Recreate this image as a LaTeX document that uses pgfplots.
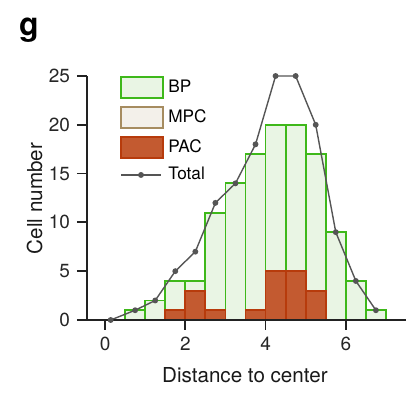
\documentclass[border=0pt]{standalone}
\usepackage{fontspec}
\setmainfont{TeX Gyre Heros}
\usepackage{pgfplots}
\pgfplotsset{compat=1.18}
\definecolor{bpfill}{HTML}{E9F5E4}
\definecolor{bpedge}{HTML}{3EB81A}
\definecolor{mpcfill}{HTML}{F3F0EA}
\definecolor{mpcedge}{HTML}{A68C60}
\definecolor{pacfill}{HTML}{C35A30}
\definecolor{pacedge}{HTML}{B73B0C}
\definecolor{totcol}{HTML}{555555}
\definecolor{axcol}{HTML}{222222}
\pgfplotsset{
  boxlegend/.style={legend image code/.code={\draw[##1] (0pt,-5.25pt) rectangle (21pt,5.25pt);}},
  linelegend/.style={legend image code/.code={\draw[mark repeat=2,mark phase=2,##1] plot coordinates {(0pt,0pt) (10pt,0pt) (20pt,0pt)};}},
}
\begin{document}
\begin{tikzpicture}
\useasboundingbox (-43.5pt,-37pt) rectangle (159.5pt,160pt);
\begin{axis}[
  at={(0,0)}, anchor=south west,
  scale only axis,
  width=159.5pt, height=122pt,
  xmin=-0.45, xmax=7.5,
  ymin=0, ymax=25,
  axis x line*=bottom, axis y line*=left,
  axis line style={axcol, line width=0.9pt},
  xtick={0,2,4,6},
  ytick={0,5,10,15,20,25},
  tick align=outside,
  major tick length=5pt,
  tick style={axcol, line width=0.9pt},
  /pgf/number format/assume math mode=true,
  ticklabel style={font=\fontsize{9.5}{10}\selectfont, text=black!85},
  xlabel={Distance to center},
  ylabel={Cell number},
  label style={font=\fontsize{10.3}{12}\selectfont, text=black!90},
  xlabel style={at={(axis description cs:0.495,-0.258)}, anchor=base},
  ylabel style={at={(axis description cs:-0.141,0.498)}, anchor=base},
  axis on top,
  legend style={at={(axis cs:0.375,25)}, anchor=north west, draw=none, fill=none,
    inner sep=0pt, outer sep=0pt, row sep=3.6pt, column sep=1.6pt,
    font=\fontsize{8.6}{10}\selectfont,
    nodes={inner sep=0.6pt}},
  legend cell align=left,
]
\addplot[ybar, bar width=0.5, bar shift=0pt, draw=bpedge, fill=bpfill, line width=0.9pt, boxlegend]
  coordinates {(0.75,1) (1.25,2) (1.75,4) (2.25,4) (2.75,11) (3.25,14) (3.75,17)
               (4.25,20) (4.75,20) (5.25,17) (5.75,9) (6.25,4) (6.75,1)};
\addlegendentry{BP}
\addlegendimage{draw=mpcedge, fill=mpcfill, line width=0.9pt, boxlegend}
\addlegendentry{MPC}
\addplot[ybar, bar width=0.5, bar shift=0pt, draw=pacedge, fill=pacfill, line width=0.9pt, boxlegend]
  coordinates {(1.75,1) (2.25,3) (2.75,1) (3.75,1) (4.25,5) (4.75,5) (5.25,3)};
\addlegendentry{PAC}
\addplot[totcol, line width=0.7pt, mark=*, mark size=1.1pt, mark options={fill=totcol, draw=totcol}, linelegend]
  coordinates {(0.14,0) (0.75,1) (1.25,2) (1.75,5) (2.25,7) (2.75,12) (3.25,14) (3.75,18)
               (4.25,25) (4.75,25) (5.25,20) (5.75,9) (6.25,4) (6.75,1)};
\addlegendentry{Total}
\end{axis}
\node[anchor=base west, font=\fontsize{16}{16}\selectfont\bfseries] at (-37.5pt,142pt) {g};
\end{tikzpicture}
\end{document}
